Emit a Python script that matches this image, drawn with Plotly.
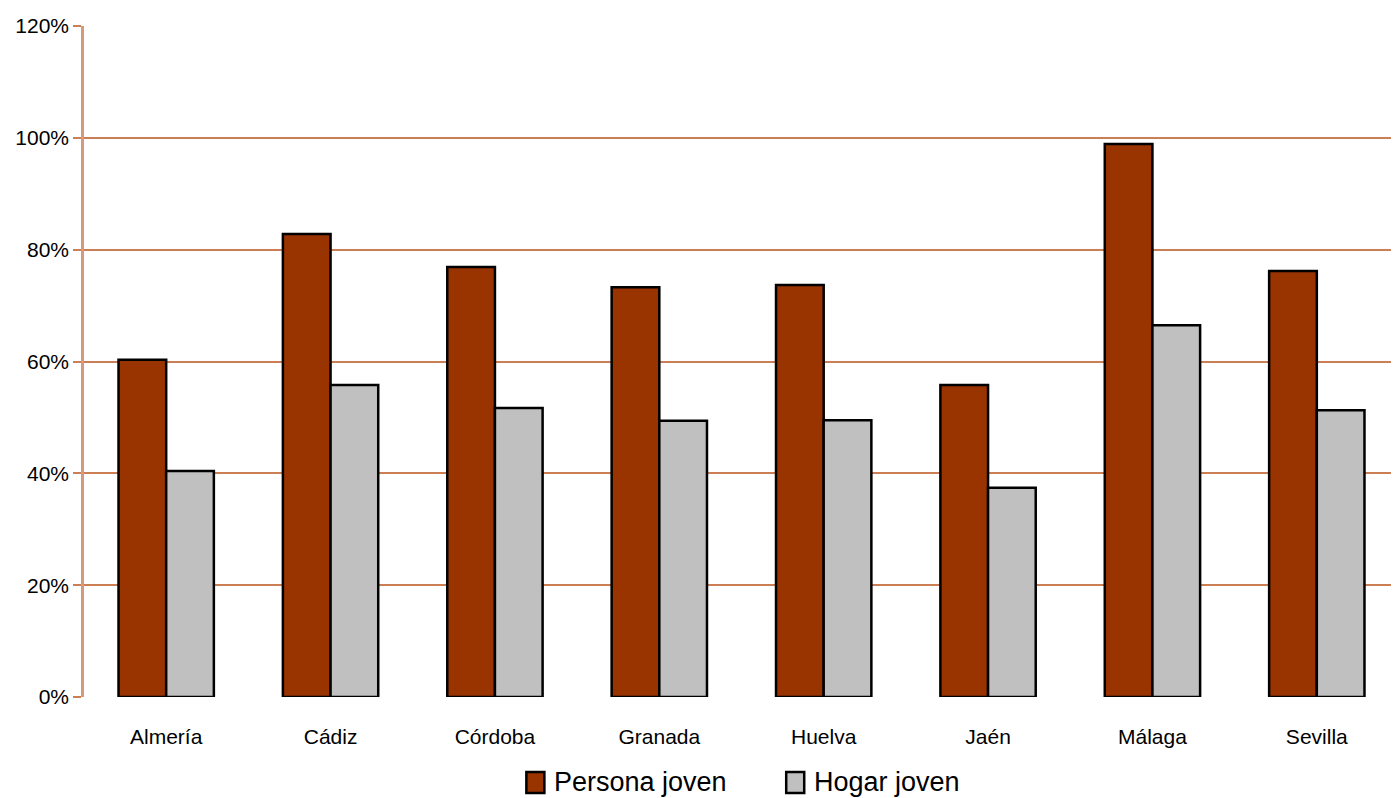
import plotly.graph_objects as go

categories = ["Almería", "Cádiz", "Córdoba", "Granada", "Huelva", "Jaén", "Málaga", "Sevilla"]
persona_joven = [0.603, 0.828, 0.769, 0.733, 0.737, 0.558, 0.989, 0.762]
hogar_joven = [0.404, 0.558, 0.517, 0.494, 0.495, 0.374, 0.665, 0.513]
y_ticks = [0, 0.2, 0.4, 0.6, 0.8, 1.0, 1.2]
y_tick_labels = ["0%", "20%", "40%", "60%", "80%", "100%", "120%"]
series_names = ["Persona joven", "Hogar joven"]
series_colors = ["#993300", "#C0C0C0"]

font_family = "Liberation Sans Narrow, Arial Narrow, Liberation Sans, Arial, sans-serif"
grid_color = "#CC7F55"

fig = go.Figure()
for name, vals, col in zip(series_names, [persona_joven, hogar_joven], series_colors):
    fig.add_trace(go.Bar(x=categories, y=vals, name=name, showlegend=False,
                         marker=dict(color=col, line=dict(color="#000000", width=2.5))))

# legend drawn below the plot (large square swatches + labels)
legend_x = [0.3364, 0.5340]
for name, col, lx in zip(series_names, series_colors, legend_x):
    fig.add_shape(type="rect", xref="paper", yref="paper",
                  x0=lx, x1=lx + 0.0137, y0=-0.1431, y1=-0.1118,
                  fillcolor=col, line=dict(color="#000000", width=2.5))
    fig.add_annotation(xref="paper", yref="paper", x=lx + 0.0197, y=-0.1274,
                       text=name, showarrow=False, xanchor="left", yanchor="middle",
                       font=dict(size=27, family=font_family, color="#000000"))

fig.update_layout(
    width=1391, height=790,
    margin=dict(l=76, r=0, t=18, b=101),
    paper_bgcolor="white", plot_bgcolor="white",
    barmode="group", bargap=0.42, bargroupgap=0,
    font=dict(family=font_family, color="#000000"),
    showlegend=False,
    xaxis=dict(showgrid=False, showline=False, ticks="", tickfont=dict(size=21),
               ticklabelstandoff=25),
    yaxis=dict(range=[0, 1.2], tickvals=y_ticks, ticktext=y_tick_labels,
               showgrid=True, gridcolor=grid_color, gridwidth=1.5,
               showline=True, linecolor="#D59A7C", linewidth=2.5,
               ticks="outside", ticklen=8, tickcolor=grid_color, tickwidth=2,
               tickfont=dict(size=21), zeroline=False),
)
fig.write_html("out.html")
